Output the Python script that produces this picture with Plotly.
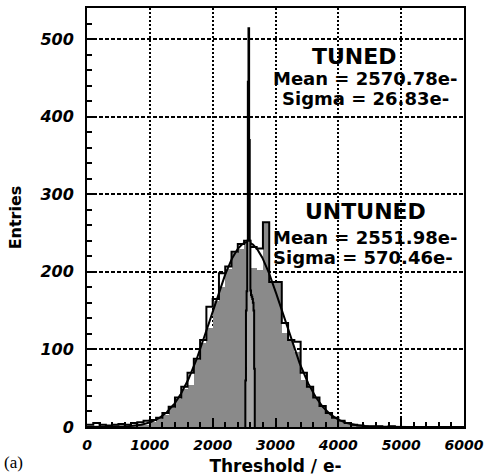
import numpy as np
import plotly.graph_objects as go

# Untuned threshold histogram, 100 e- bins from 0 to 6000 (lower edges)
BIN_WIDTH = 100
bin_edges = np.arange(0, 6000, BIN_WIDTH)

# Filled (gray) untuned distribution
untuned_fill = [
    0, 0, 0, 0, 0, 1, 1, 1, 2, 3,
    6, 10, 16, 24, 36, 49, 54, 86, 108, 128,
    162, 180, 204, 224, 230, 236, 205, 202, 264, 187,
    187, 121, 112, 97, 60, 51, 37, 26, 17, 11,
    7, 4, 2, 1, 1, 0, 0, 0, 0, 0,
    0, 0, 0, 0, 0, 0, 0, 0, 0, 0,
]

# Outline (black step) untuned distribution
untuned_line = [
    3, 5, 3, 2, 3, 4, 3, 5, 6, 8,
    9, 12, 18, 26, 38, 52, 70, 88, 112, 155,
    165, 198, 207, 226, 236, 240, 232, 230, 264, 187,
    187, 134, 112, 110, 70, 52, 38, 27, 18, 12,
    8, 5, 3, 2, 1, 1, 1, 0, 1, 0,
    0, 0, 0, 0, 0, 0, 0, 0, 0, 0,
]

# Tuned threshold histogram, 10 e- bins
TUNED_WIDTH = 10
tuned_edges = np.arange(2510, 2680, TUNED_WIDTH)
tuned_counts = [0, 60, 150, 175, 240, 445, 514, 370, 240,
                176, 170, 168, 165, 160, 150, 75, 0]

# Gaussian fit results
TUNED_MEAN, TUNED_SIGMA = 2570.78, 26.83
UNTUNED_MEAN, UNTUNED_SIGMA = 2551.98, 570.46
UNTUNED_AMP = 238

X_MAX, Y_MAX = 6000, 540

fig = go.Figure()

# gray filled untuned histogram
fig.add_trace(go.Bar(
    x=bin_edges + BIN_WIDTH / 2, y=untuned_fill, width=BIN_WIDTH,
    marker=dict(color="#8a8a8a", line=dict(width=0)),
    showlegend=False, hoverinfo="skip",
))

# black step outline of the untuned histogram
step_x = list(bin_edges) + [X_MAX]
step_y = list(untuned_line) + [untuned_line[-1]]
fig.add_trace(go.Scatter(
    x=step_x, y=step_y, mode="lines", line_shape="hv",
    line=dict(color="black", width=2), showlegend=False, hoverinfo="skip",
))

# Gaussian fit to the untuned distribution
xf = np.linspace(0, X_MAX, 1201)
yf = UNTUNED_AMP * np.exp(-0.5 * ((xf - UNTUNED_MEAN) / UNTUNED_SIGMA) ** 2)
fig.add_trace(go.Scatter(
    x=xf, y=yf, mode="lines", line=dict(color="black", width=2),
    showlegend=False, hoverinfo="skip",
))

# tuned histogram (narrow spike)
tx = list(tuned_edges) + [tuned_edges[-1] + TUNED_WIDTH]
ty = list(tuned_counts) + [0]
fig.add_trace(go.Scatter(
    x=tx, y=ty, mode="lines", line_shape="hv",
    line=dict(color="black", width=2), fill="tozeroy", fillcolor="#a8a8a8",
    showlegend=False, hoverinfo="skip",
))

tick_font = dict(family="DejaVu Sans", size=14, color="black",
                 weight="bold", style="italic")
label_font = dict(family="DejaVu Sans", size=16, color="black", weight="bold")

fig.update_xaxes(
    range=[0, X_MAX], tickmode="linear", tick0=0, dtick=1000,
    ticks="inside", ticklen=9, tickwidth=1.5, tickcolor="black",
    minor=dict(dtick=200, ticks="inside", ticklen=5, tickwidth=1.5,
               tickcolor="black", showgrid=False),
    showgrid=True, gridcolor="black", gridwidth=1.5, griddash="2px,2px",
    showline=True, linecolor="black", linewidth=2, mirror=True,
    tickfont=tick_font, ticklabelstandoff=4, automargin=False,
    title=dict(text="Threshold / e-", font=dict(label_font, size=17), standoff=8),
    zeroline=False,
)
fig.update_yaxes(
    range=[0, Y_MAX], tickmode="linear", tick0=0, dtick=100,
    ticks="inside", ticklen=8, tickwidth=1.5, tickcolor="black",
    minor=dict(dtick=20, ticks="inside", ticklen=5, tickwidth=1.5,
               tickcolor="black", showgrid=False),
    showgrid=True, gridcolor="black", gridwidth=1.5, griddash="4px,2px",
    showline=True, linecolor="black", linewidth=2, mirror=True,
    tickfont=dict(tick_font, size=16), ticklabelstandoff=8, automargin=False,
    title=dict(text="Entries", font=label_font, standoff=14),
    zeroline=False,
)

head_font = dict(family="DejaVu Sans", size=22, color="black", weight="bold")
stat_font = dict(family="DejaVu Sans", size=18, color="black", weight="bold")
texts = [
    ("TUNED", 4250, 478, head_font),
    (f"Mean = {TUNED_MEAN:.2f}e-", 4424, 449, stat_font),
    (f"Sigma = {TUNED_SIGMA:.2f}e-", 4440, 424, stat_font),
    ("UNTUNED", 4440, 278, head_font),
    (f"Mean = {UNTUNED_MEAN:.2f}e-", 4424, 244, stat_font),
    (f"Sigma = {UNTUNED_SIGMA:.2f}e-", 4392, 219, stat_font),
]
for txt, x, y, f in texts:
    fig.add_annotation(x=x, y=y, xref="x", yref="y", text=txt, showarrow=False,
                       font=f, xanchor="center", yanchor="middle")

# panel label
fig.add_annotation(x=-0.225, y=-0.085, xref="paper", yref="paper", xanchor="left",
                   yanchor="middle", text="(a)", showarrow=False,
                   font=dict(family="Liberation Serif", size=17, color="black"))

fig.update_layout(
    width=491, height=476,
    margin=dict(l=87, r=27, t=8, b=49),
    paper_bgcolor="white", plot_bgcolor="white",
    bargap=0, showlegend=False,
)

fig.write_html("out.html", config={"displayModeBar": False})
